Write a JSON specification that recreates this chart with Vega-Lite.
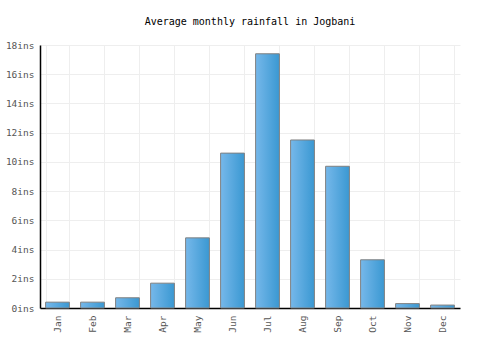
{
  "$schema": "https://vega.github.io/schema/vega-lite/v6.json",
  "autosize": "none",
  "width": 420,
  "height": 263,
  "padding": {"left": 40, "top": 45, "right": 40, "bottom": 42},
  "background": "white",
  "title": {
    "text": "Average monthly rainfall in Jogbani",
    "font": "DejaVu Sans Mono",
    "fontSize": 10,
    "fontWeight": "normal",
    "color": "#000000",
    "anchor": "middle",
    "offset": 13
  },
  "config": {
    "view": {"stroke": null},
    "axis": {
      "labelFont": "DejaVu Sans Mono",
      "labelFontSize": 9.5,
      "labelColor": "#555555",
      "gridColor": "#eeeeee",
      "gridWidth": 1,
      "domainColor": "#000000",
      "domainWidth": 1.5,
      "ticks": false,
      "title": null
    }
  },
  "data": {
    "values": [
      {"month": "Jan", "rain": 0.4},
      {"month": "Feb", "rain": 0.4},
      {"month": "Mar", "rain": 0.7},
      {"month": "Apr", "rain": 1.7},
      {"month": "May", "rain": 4.8},
      {"month": "Jun", "rain": 10.6},
      {"month": "Jul", "rain": 17.4},
      {"month": "Aug", "rain": 11.5},
      {"month": "Sep", "rain": 9.7},
      {"month": "Oct", "rain": 3.3},
      {"month": "Nov", "rain": 0.3},
      {"month": "Dec", "rain": 0.2}
    ]
  },
  "mark": {
    "type": "bar",
    "stroke": "#808080",
    "strokeWidth": 1,
    "color": {
      "gradient": "linear",
      "x1": 0, "x2": 1, "y1": 0, "y2": 0,
      "stops": [
        {"offset": 0, "color": "#76b8ea"},
        {"offset": 1, "color": "#3a98d2"}
      ]
    }
  },
  "encoding": {
    "x": {
      "field": "month",
      "type": "ordinal",
      "sort": null,
      "scale": {"paddingInner": 0.32, "paddingOuter": 0.16},
      "axis": {
        "grid": true,
        "tickBand": "extent",
        "labelAngle": -90,
        "labelAlign": "right",
        "labelBaseline": "middle",
        "labelPadding": 7
      }
    },
    "y": {
      "field": "rain",
      "type": "quantitative",
      "scale": {"domain": [0, 18], "nice": false},
      "axis": {
        "grid": true,
        "values": [0, 2, 4, 6, 8, 10, 12, 14, 16, 18],
        "labelExpr": "datum.value + 'ins'",
        "labelPadding": 6
      }
    }
  }
}
